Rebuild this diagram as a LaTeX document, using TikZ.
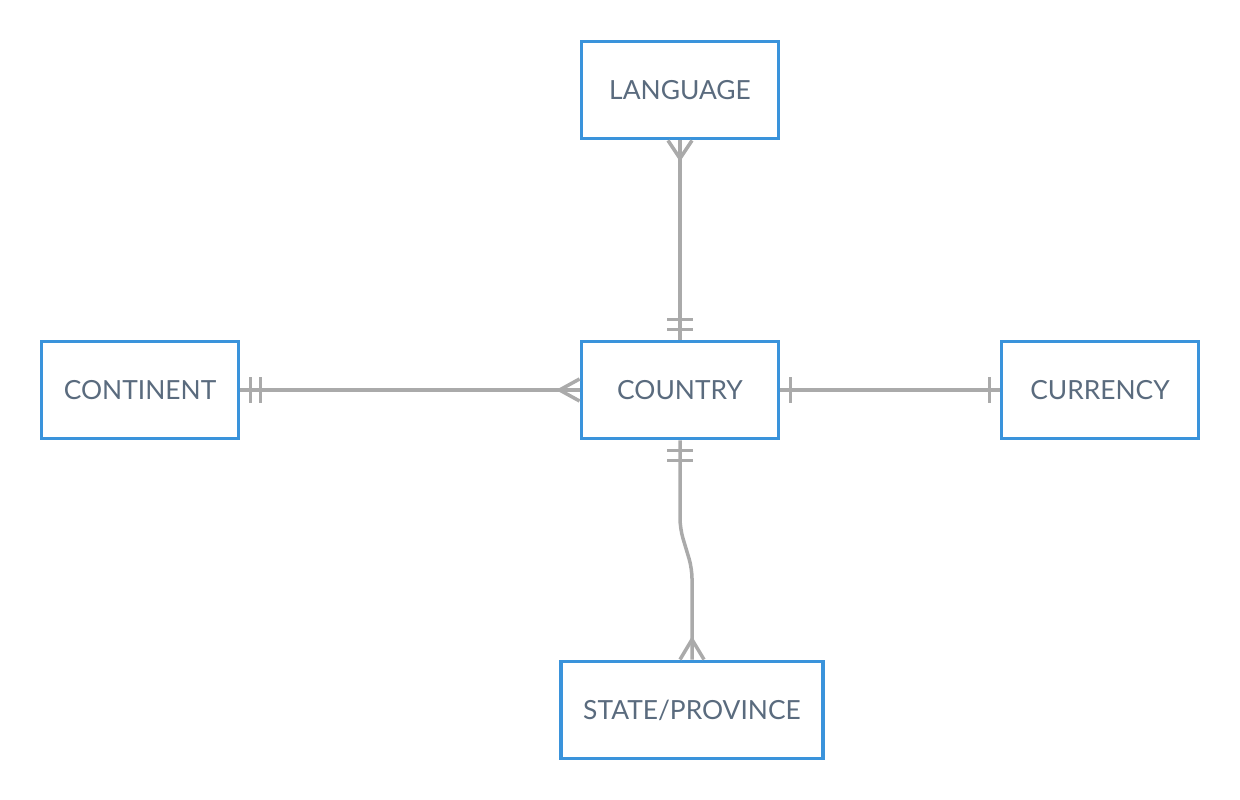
\documentclass[tikz,border=0pt]{standalone}
\usepackage{fontspec}
\setmainfont{Lato}
\definecolor{boxblue}{HTML}{3A93DB}
\definecolor{linegray}{HTML}{AAAAAA}
\definecolor{textgray}{HTML}{5A6B7E}

\begin{document}
\begin{tikzpicture}[x=0.02cm,y=-0.02cm,
  entity/.style={draw=boxblue,line width=0.07cm,fill=white,text=textgray,
    minimum width=3.95cm,minimum height=1.95cm,font=\fontsize{15}{18}\selectfont},
  conn/.style={draw=linegray,line width=0.07cm}]
\useasboundingbox (0,0) rectangle (1240,800);

\node[entity] (language) at (680,90) {LANGUAGE};
\node[entity] (country) at (680,390) {COUNTRY};
\node[entity] (continent) at (140,390) {CONTINENT};
\node[entity] (currency) at (1100,390) {CURRENCY};
\node[entity,minimum width=5.25cm] (state) at (692,710) {STATE/PROVINCE};

% connectors
\draw[conn] (language.south) -- (country.north);
\draw[conn] (continent.east) -- (country.west);
\draw[conn] (country.east) -- (currency.west);
\draw[conn,rounded corners=0.2cm] (country.south) -- ++(0,88) -- ++(12,40) -- (state.north);

% language: many / country: one and only one
\draw[conn] ([shift={(-12,0)}]language.south) -- ([shift={(0,18)}]language.south) -- ([shift={(12,0)}]language.south);
\draw[conn] ([shift={(-13,-20)}]country.north) -- ++(26,0);
\draw[conn] ([shift={(-13,-10)}]country.north) -- ++(26,0);

% continent: one and only one / country: many
\draw[conn] ([shift={(10,-13)}]continent.east) -- ++(0,26);
\draw[conn] ([shift={(20,-13)}]continent.east) -- ++(0,26);
\draw[conn] ([shift={(0,-11)}]country.west) -- ([shift={(-20,0)}]country.west) -- ([shift={(0,11)}]country.west);

% country / currency: one
\draw[conn] ([shift={(10,-13)}]country.east) -- ++(0,26);
\draw[conn] ([shift={(-10,-13)}]currency.west) -- ++(0,26);

% country: one and only one / state: many
\draw[conn] ([shift={(-13,10)}]country.south) -- ++(26,0);
\draw[conn] ([shift={(-13,20)}]country.south) -- ++(26,0);
\draw[conn] ([shift={(-12,0)}]state.north) -- ([shift={(0,-20)}]state.north) -- ([shift={(12,0)}]state.north);
\end{tikzpicture}
\end{document}
